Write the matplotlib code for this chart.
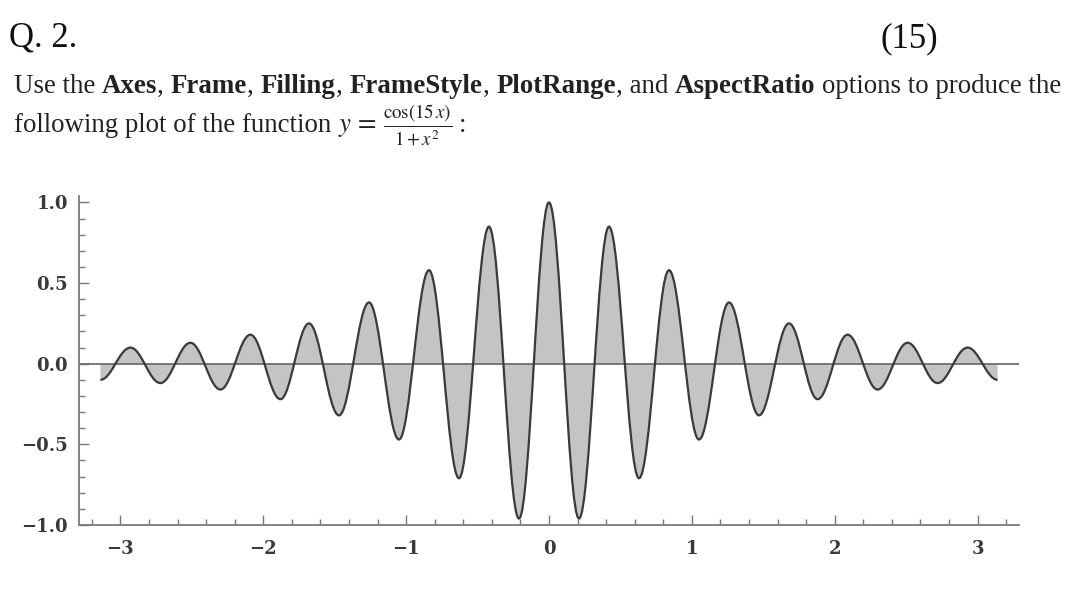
import matplotlib
matplotlib.use("Agg")
import matplotlib.pyplot as plt
from matplotlib.path import Path
from matplotlib.patches import PathPatch
from matplotlib.ticker import MultipleLocator, FuncFormatter

# --- Andmed: ekstreemumid, loetud pildilt ---
peak_x = [-3.14, -2.93, -2.72, -2.51, -2.30, -2.09, -1.88, -1.68, -1.47, -1.26, -1.05,
          -0.84, -0.63, -0.42, -0.21, 0.0, 0.21, 0.42, 0.63, 0.84, 1.05, 1.26, 1.47,
          1.68, 1.88, 2.09, 2.30, 2.51, 2.72, 2.93, 3.14]
peak_y = [-0.10, 0.10, -0.12, 0.13, -0.16, 0.18, -0.22, 0.25, -0.32, 0.38, -0.47,
          0.58, -0.71, 0.85, -0.96, 1.0, -0.96, 0.85, -0.71, 0.58, -0.47, 0.38, -0.32,
          0.25, -0.22, 0.18, -0.16, 0.13, -0.12, 0.10, -0.10]
x_ticks = [-3, -2, -1, 0, 1, 2, 3]
y_ticks = [-1.0, -0.5, 0.0, 0.5, 1.0]

W, H = 1080, 595
fig = plt.figure(figsize=(W / 100, H / 100), dpi=100)
plt.rcParams["mathtext.fontset"] = "stix"
rend = fig.canvas.get_renderer()


def px(x, y):
    return x / W, 1 - y / H


def text_w(s, **kw):
    t = fig.text(0, 0, s, **kw)
    w = t.get_window_extent(renderer=rend).width
    t.remove()
    return w


def space_w(size, kw):
    return text_w("x x", fontsize=size, **kw) - text_w("xx", fontsize=size, **kw)


def run(pieces, x0, y0, size):
    # joonistab järjest tekstijupid, tühikud lisatakse käsitsi
    x = x0
    for s, kw in pieces:
        lead = len(s) - len(s.lstrip(" "))
        trail = len(s) - len(s.rstrip(" "))
        sp = space_w(size, kw)
        x += lead * sp
        core = s.strip(" ")
        if core:
            t = fig.text(*px(x, y0), core, fontsize=size, va="baseline", ha="left",
                         color="#222222", **kw)
            x += t.get_window_extent(renderer=rend).width
        x += trail * sp
    return x


REG = dict(family="Liberation Serif")
BLD = dict(family="Liberation Serif", weight="bold")

line1 = [("Use the ", REG), ("Axes", BLD), (", ", REG), ("Frame", BLD), (", ", REG),
         ("Filling", BLD), (", ", REG), ("FrameStyle", BLD), (", ", REG),
         ("PlotRange", BLD), (", and ", REG), ("AspectRatio", BLD),
         (" options to produce the", REG)]

# sobita rea laius
base = 10
w10 = sum(text_w(s.strip(" "), fontsize=base, **kw) for s, kw in line1)
w10 += sum((len(s) - len(s.strip(" "))) * space_w(base, kw) for s, kw in line1)
size = base * (1062 - 14) / w10

fig.text(*px(9, 47), "Q. 2.", fontsize=25, family="Liberation Serif", va="baseline", color="#111111")
fig.text(*px(938, 47), "(15)", fontsize=25, family="Liberation Serif", va="baseline", ha="right",
         color="#111111")
run(line1, 14, 93, size)
line2 = [("following plot of the function ", REG),
         (r"$y\,=\,\frac{\cos(15\,x)}{1+x^2}$", {}),
         (" :", REG)]
run(line2, 14, 132, size)

# --- Graafik ---
ax = fig.add_axes([79 / W, 70 / H, (1019 - 79) / W, (525 - 196) / H])
ax.set_xlim(-3.29, 3.29)
ax.set_ylim(-1.0, 1.04)

verts = [(peak_x[0], peak_y[0])]
codes = [Path.MOVETO]
a = 0.37
for i in range(len(peak_x) - 1):
    x0, y0 = peak_x[i], peak_y[i]
    x1, y1 = peak_x[i + 1], peak_y[i + 1]
    d = x1 - x0
    verts += [(x0 + a * d, y0), (x1 - a * d, y1), (x1, y1)]
    codes += [Path.CURVE4] * 3

fill_verts = verts + [(peak_x[-1], 0), (peak_x[0], 0), (peak_x[0], peak_y[0])]
fill_codes = codes + [Path.LINETO, Path.LINETO, Path.CLOSEPOLY]
ax.add_patch(PathPatch(Path(fill_verts, fill_codes), facecolor="#c4c4c4", edgecolor="none", zorder=1))
ax.axhline(0, color="#6e6e6e", lw=1.3, zorder=2)
ax.add_patch(PathPatch(Path(verts, codes), facecolor="none", edgecolor="#3a3a3a", lw=1.6, zorder=3))

for s in ("top", "right"):
    ax.spines[s].set_visible(False)
for s in ("left", "bottom"):
    ax.spines[s].set_color("#7a7a7a")
    ax.spines[s].set_linewidth(1.3)

ax.set_xticks(x_ticks)
ax.set_yticks(y_ticks)
ax.xaxis.set_minor_locator(MultipleLocator(0.2))
ax.yaxis.set_minor_locator(MultipleLocator(0.1))
ax.xaxis.set_major_formatter(FuncFormatter(lambda v, p: f"{v:.0f}".replace("-", "\u2212")))
ax.yaxis.set_major_formatter(FuncFormatter(lambda v, p: f"{v:.1f}".replace("-", "\u2212")))
ax.tick_params(which="both", direction="in", color="#7a7a7a", width=1.0)
ax.tick_params(which="major", length=7, labelsize=13, labelcolor="#3a3a3a")
ax.tick_params(axis="x", which="major", pad=11)
ax.tick_params(axis="y", which="major", pad=8)
ax.tick_params(which="minor", length=4)
for lbl in ax.get_xticklabels() + ax.get_yticklabels():
    lbl.set_family("DejaVu Serif")
    lbl.set_weight("bold")

fig.savefig("out.png", dpi=100, facecolor="white")
